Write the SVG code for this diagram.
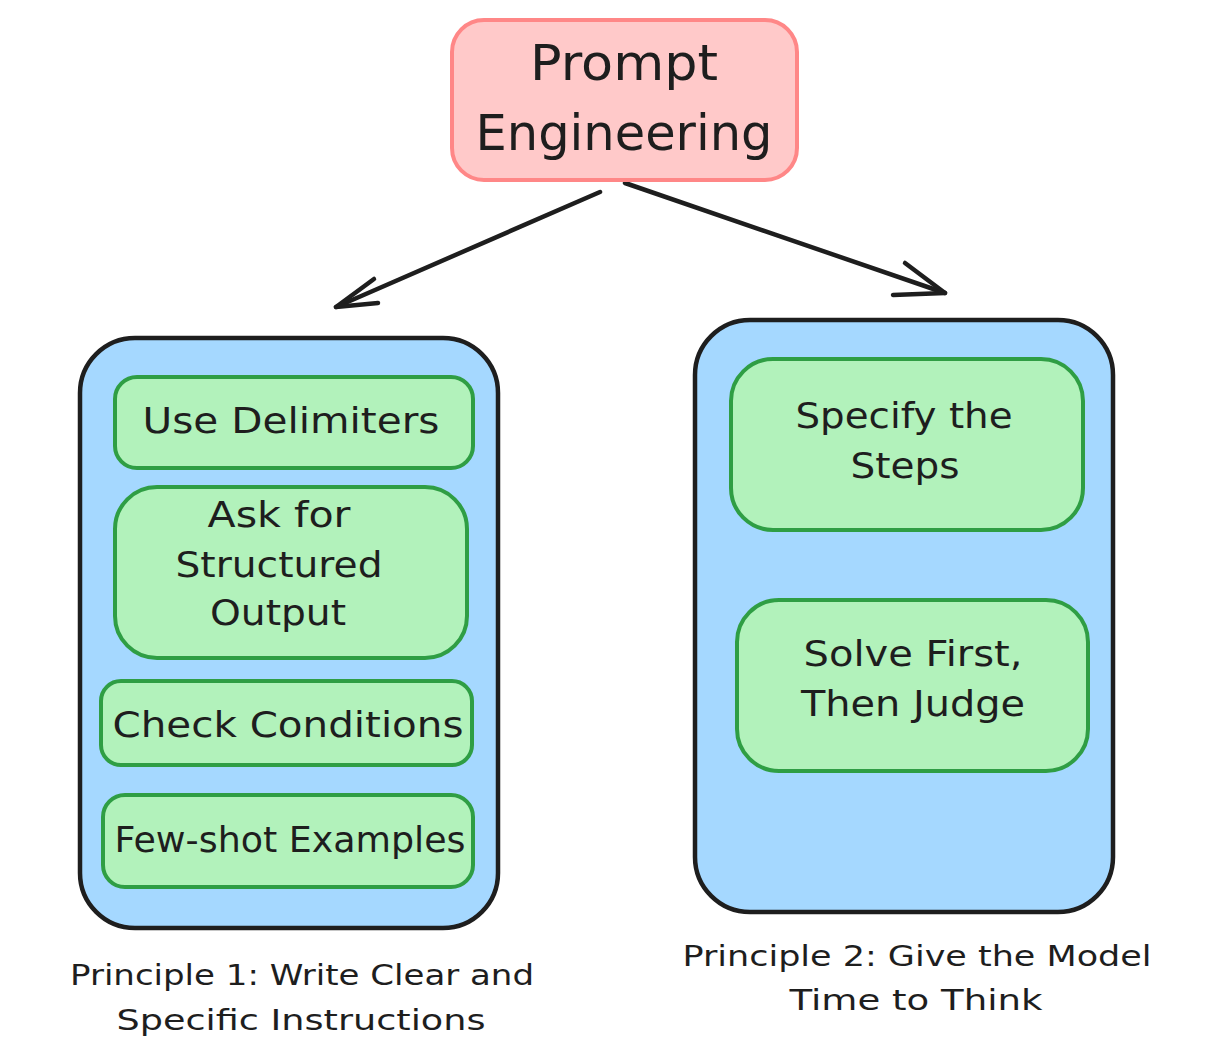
<svg xmlns="http://www.w3.org/2000/svg" width="1218" height="1062" viewBox="0 0 1218 1062">
<style>
text{font-family:"DejaVu Sans","Liberation Sans",sans-serif;fill:#1e1e1e;text-anchor:middle}
.big{font-size:50px}
.mid{font-size:36px}
.lab{font-size:29px}
.root{fill:#ffc9c9;stroke:#ff8787;stroke-width:4}
.cont{fill:#a5d8ff;stroke:#1e1e1e;stroke-width:4.5}
.leaf{fill:#b2f2bb;stroke:#2f9e44;stroke-width:4}
.conn{fill:none;stroke:#1e1e1e;stroke-width:4.5;stroke-linecap:round;stroke-linejoin:round}
</style>
<rect width="1218" height="1062" fill="#ffffff"/>
<g id="connectors">
<path class="conn" d="M600 192 L336 307"/>
<path class="conn" d="M374 279 L336 307 L378 303"/>
<path class="conn" d="M625 183 L945 293"/>
<path class="conn" d="M905 263 L945 293 L893 295"/>
</g>
<g id="node-root">
<rect class="root" x="452" y="20" width="345" height="160" rx="32"/>
<text class="big" x="624" y="80" textLength="188" lengthAdjust="spacingAndGlyphs">Prompt</text>
<text class="big" x="624" y="150" textLength="297" lengthAdjust="spacingAndGlyphs">Engineering</text>
</g>
<g id="node-principle1">
<rect class="cont" x="80" y="338" width="418" height="590" rx="55"/>
</g>
<g id="node-principle2">
<rect class="cont" x="695" y="320" width="418" height="592" rx="55"/>
</g>
<g id="node-delimiters">
<rect class="leaf" x="115" y="377" width="358" height="91" rx="22"/>
<text class="mid" x="291" y="433" textLength="297" lengthAdjust="spacingAndGlyphs">Use Delimiters</text>
</g>
<g id="node-structured">
<rect class="leaf" x="115" y="487" width="352" height="171" rx="42"/>
<text class="mid" x="279" y="527" textLength="143" lengthAdjust="spacingAndGlyphs">Ask for</text>
<text class="mid" x="279" y="577" textLength="207" lengthAdjust="spacingAndGlyphs">Structured</text>
<text class="mid" x="278" y="625" textLength="136" lengthAdjust="spacingAndGlyphs">Output</text>
</g>
<g id="node-conditions">
<rect class="leaf" x="101" y="681" width="371" height="84" rx="20"/>
<text class="mid" x="288" y="737" textLength="351" lengthAdjust="spacingAndGlyphs">Check Conditions</text>
</g>
<g id="node-fewshot">
<rect class="leaf" x="103" y="795" width="370" height="92" rx="22"/>
<text class="mid" x="290" y="852" textLength="351" lengthAdjust="spacingAndGlyphs">Few-shot Examples</text>
</g>
<g id="node-steps">
<rect class="leaf" x="731" y="359" width="352" height="171" rx="42"/>
<text class="mid" x="904" y="428" textLength="217" lengthAdjust="spacingAndGlyphs">Specify the</text>
<text class="mid" x="905" y="478" textLength="109" lengthAdjust="spacingAndGlyphs">Steps</text>
</g>
<g id="node-solve">
<rect class="leaf" x="737" y="600" width="351" height="171" rx="42"/>
<text class="mid" x="913" y="666" textLength="219" lengthAdjust="spacingAndGlyphs">Solve First,</text>
<text class="mid" x="913" y="716" textLength="224" lengthAdjust="spacingAndGlyphs">Then Judge</text>
</g>
<g id="label-principle1">
<text class="lab" x="302" y="985" textLength="464" lengthAdjust="spacingAndGlyphs">Principle 1: Write Clear and</text>
<text class="lab" x="301" y="1030" textLength="369" lengthAdjust="spacingAndGlyphs">Specific Instructions</text>
</g>
<g id="label-principle2">
<text class="lab" x="917" y="966" textLength="469" lengthAdjust="spacingAndGlyphs">Principle 2: Give the Model</text>
<text class="lab" x="916" y="1010" textLength="253" lengthAdjust="spacingAndGlyphs">Time to Think</text>
</g>
</svg>
